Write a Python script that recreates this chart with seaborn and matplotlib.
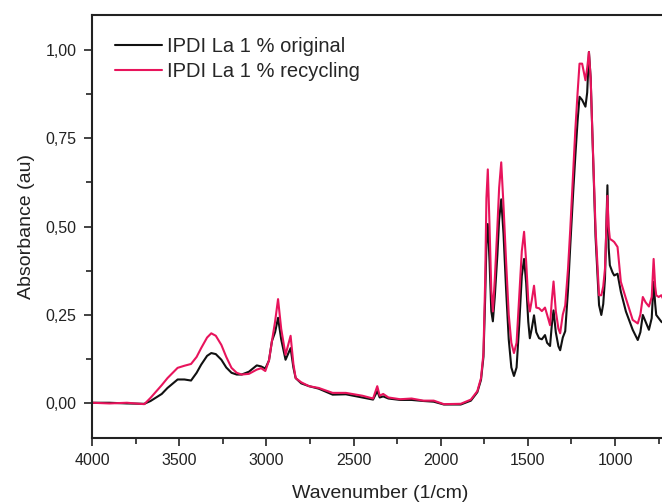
import matplotlib
matplotlib.use("Agg")
import matplotlib.pyplot as plt
import seaborn as sns
import pandas as pd
from matplotlib.ticker import MultipleLocator, FixedLocator, FixedFormatter

# ---- data (wavenumber, absorbance) ----
wavenumber = [4000, 3900, 3800, 3700, 3664, 3600, 3567, 3509, 3470, 3432, 3400, 3374, 3340,
              3316, 3290, 3258, 3230, 3200, 3170, 3142, 3100, 3055, 3030, 3006, 2985, 2968,
              2950, 2933, 2915, 2890, 2861, 2845, 2832, 2800, 2755, 2700, 2620, 2544, 2450,
              2388, 2364, 2350, 2330, 2300, 2233, 2167, 2100, 2040, 1982, 1885, 1827, 1790,
              1769, 1755, 1745, 1738, 1730, 1720, 1710, 1701, 1690, 1675, 1665, 1653, 1640,
              1625, 1610, 1595, 1580, 1565, 1550, 1535, 1522, 1510, 1498, 1489, 1478, 1465,
              1452, 1436, 1420, 1402, 1390, 1373, 1363, 1353, 1340, 1325, 1315, 1300, 1286,
              1270, 1257, 1240, 1228, 1215, 1204, 1189, 1170, 1160, 1150, 1140, 1131, 1112,
              1092, 1079, 1068, 1058, 1044, 1037, 1030, 1015, 1005, 986, 967, 938, 899, 870,
              855, 841, 825, 806, 790, 779, 770, 764, 750, 735, 720, 706, 693]

original = [0.000, 0.000, -0.002, -0.003, 0.005, 0.025, 0.042, 0.066, 0.066, 0.063, 0.085, 0.108, 0.133,
            0.141, 0.138, 0.122, 0.100, 0.085, 0.080, 0.080, 0.088, 0.106, 0.103, 0.097, 0.120, 0.175,
            0.200, 0.241, 0.180, 0.122, 0.155, 0.100, 0.070, 0.055, 0.047, 0.040, 0.023, 0.024, 0.015,
            0.009, 0.033, 0.015, 0.018, 0.012, 0.008, 0.008, 0.005, 0.003, -0.005, -0.005, 0.006, 0.030,
            0.065, 0.130, 0.300, 0.450, 0.507, 0.400, 0.260, 0.231, 0.300, 0.420, 0.520, 0.577, 0.480,
            0.320, 0.180, 0.100, 0.076, 0.100, 0.220, 0.360, 0.408, 0.340, 0.230, 0.183, 0.210, 0.248,
            0.200, 0.183, 0.180, 0.192, 0.170, 0.161, 0.220, 0.262, 0.200, 0.160, 0.149, 0.185, 0.203,
            0.320, 0.446, 0.600, 0.700, 0.800, 0.868, 0.859, 0.840, 0.880, 0.995, 0.920, 0.775, 0.470,
            0.277, 0.249, 0.280, 0.352, 0.617, 0.440, 0.390, 0.370, 0.361, 0.366, 0.315, 0.259, 0.207, 0.178,
            0.200, 0.249, 0.230, 0.207, 0.240, 0.343, 0.280, 0.249, 0.240, 0.230, 0.225, 0.235, 0.230]

recycling = [0.000, -0.002, 0.000, -0.004, 0.014, 0.050, 0.070, 0.099, 0.105, 0.110, 0.130, 0.155, 0.185,
             0.197, 0.190, 0.164, 0.130, 0.099, 0.085, 0.080, 0.082, 0.094, 0.098, 0.090, 0.120, 0.175,
             0.230, 0.294, 0.210, 0.136, 0.190, 0.110, 0.070, 0.058, 0.047, 0.042, 0.028, 0.028, 0.020,
             0.012, 0.047, 0.020, 0.025, 0.015, 0.010, 0.012, 0.006, 0.006, -0.004, -0.003, 0.009, 0.033,
             0.070, 0.140, 0.350, 0.580, 0.662, 0.500, 0.320, 0.259, 0.350, 0.500, 0.610, 0.682, 0.560,
             0.400, 0.250, 0.170, 0.141, 0.170, 0.300, 0.430, 0.485, 0.400, 0.290, 0.259, 0.290, 0.332,
             0.270, 0.268, 0.260, 0.270, 0.250, 0.220, 0.290, 0.344, 0.260, 0.210, 0.197, 0.250, 0.276,
             0.380, 0.493, 0.660, 0.775, 0.880, 0.962, 0.962, 0.915, 0.950, 0.995, 0.920, 0.775, 0.493,
             0.305, 0.305, 0.330, 0.380, 0.587, 0.500, 0.465, 0.460, 0.456, 0.442, 0.343, 0.296, 0.235, 0.225,
             0.250, 0.300, 0.285, 0.273, 0.300, 0.408, 0.330, 0.305, 0.300, 0.305, 0.290, 0.287, 0.290]

series_names = ["IPDI La 1 % original", "IPDI La 1 % recycling"]
series_colors = ["#111111", "#E8145C"]

y_ticks = [0.0, 0.25, 0.5, 0.75, 1.0]
y_tick_labels = ["0,00", "0,25", "0,50", "0,75", "1,00"]
x_ticks = [4000, 3500, 3000, 2500, 2000, 1500, 1000]

df = pd.concat([
    pd.DataFrame({"wn": wavenumber, "abs": original, "sample": series_names[0]}),
    pd.DataFrame({"wn": wavenumber, "abs": recycling, "sample": series_names[1]}),
])

sns.set_style("ticks")
plt.rcParams["font.family"] = ["Liberation Sans", "DejaVu Sans"]

fig = plt.figure(figsize=(6.62, 5.04), dpi=100)
ax = fig.add_axes([92 / 662, 1 - 438 / 504, 1 - 92 / 662 + 0.01, (438 - 15) / 504])

sns.lineplot(data=df, x="wn", y="abs", hue="sample", hue_order=series_names,
             palette=series_colors, linewidth=1.5, ax=ax, estimator=None, sort=True)

ax.set_xlim(4000, 693)
ax.set_ylim(-0.1, 1.1)
ax.xaxis.set_major_locator(FixedLocator(x_ticks))
ax.xaxis.set_minor_locator(MultipleLocator(250))
ax.yaxis.set_major_locator(FixedLocator(y_ticks))
ax.yaxis.set_major_formatter(FixedFormatter(y_tick_labels))
ax.yaxis.set_minor_locator(MultipleLocator(0.125))

ax.tick_params(axis="both", which="major", direction="out", length=6, width=1.2,
               labelsize=11.5, pad=5, colors="#222222")
ax.tick_params(axis="both", which="minor", direction="out", length=4, width=1.2, colors="#222222")
for side in ["left", "bottom", "top"]:
    ax.spines[side].set_visible(True)
    ax.spines[side].set_linewidth(1.5)
    ax.spines[side].set_color("#222222")
ax.spines["right"].set_visible(False)

ax.set_xlabel("Wavenumber (1/cm)", fontsize=14, labelpad=12, color="#222222")
ax.set_ylabel("Absorbance (au)", fontsize=14, labelpad=8, color="#222222")

leg = ax.legend(loc="upper left", frameon=False, fontsize=14.5, handlelength=2.35,
                handletextpad=0.25, labelspacing=0.3, borderaxespad=0.5,
                bbox_to_anchor=(0.008, 0.99))
for line in leg.get_lines():
    line.set_linewidth(1.5)

fig.savefig("out.png", dpi=100)
